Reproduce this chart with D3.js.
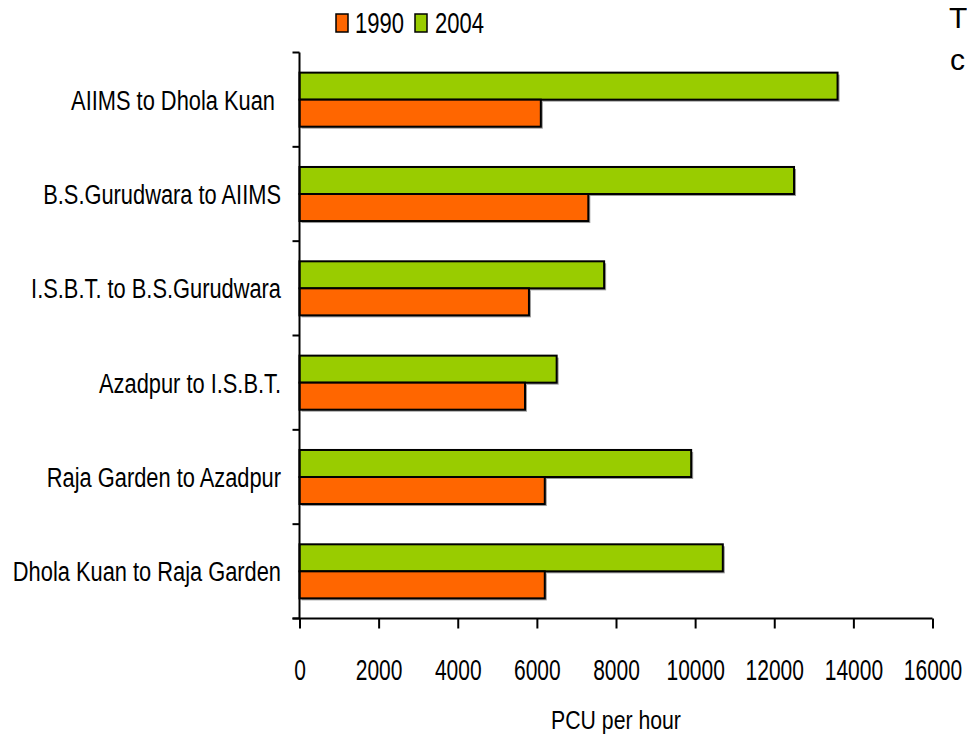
<!DOCTYPE html>
<html>
<head>
<meta charset="utf-8">
<script src="https://cdn.jsdelivr.net/npm/d3@7"></script>
<style>
  html, body { margin: 0; padding: 0; background: #fff; }
  svg text { font-family: "Liberation Sans", Arial, sans-serif; fill: #000; white-space: pre; }
</style>
</head>
<body>
<svg id="chart" width="967" height="738"></svg>
<script>
// Road sections, top to bottom
const sections = [
  "AIIMS to Dhola Kuan ",
  "B.S.Gurudwara to AIIMS",
  "I.S.B.T. to B.S.Gurudwara",
  "Azadpur to I.S.B.T.",
  "Raja Garden to Azadpur",
  "Dhola Kuan to Raja Garden"
];
// Peak traffic volume, PCU per hour
const values1990 = [6100, 7300, 5800, 5700, 6200, 6200];
const values2004 = [13600, 12500, 7700, 6500, 9900, 10700];
const seriesNames = ["2004", "1990"];
const seriesColors = { "1990": "#FF6600", "2004": "#99CC00" };
const xTicks = [0, 2000, 4000, 6000, 8000, 10000, 12000, 14000, 16000];

const svg = d3.select("#chart");
const plot = { left: 299.5, right: 932.5, top: 52.5, bottom: 618.5 };

// condensed lettering: horizontally squeezed sans
function narrow(sel, px, py, sx) {
  sel.attr("x", 0).attr("y", 0).attr("transform", `translate(${px},${py}) scale(${sx},1)`);
}

const x = d3.scaleLinear().domain([0, 16000]).range([plot.left, plot.right]);
const yOuter = d3.scaleBand().domain(sections).range([plot.top, plot.bottom]).padding(0);
const y = d3.scaleBand().domain(sections).range([plot.top, plot.bottom])
  .paddingInner(0.427).paddingOuter(0.2135);
const ySub = d3.scaleBand().domain(seriesNames).range([0, y.bandwidth()]).padding(0);

const rows = sections.map((s, i) => ({ section: s, "1990": values1990[i], "2004": values2004[i] }));

// bars with a soft grey drop shadow
const groups = svg.append("g").selectAll("g").data(rows).join("g")
  .attr("transform", d => `translate(0,${y(d.section)})`);

groups.selectAll("rect.shadow").data(d => seriesNames.map(k => ({ key: k, value: d[k] })))
  .join("rect").attr("class", "shadow")
  .attr("x", x(0) + 2)
  .attr("y", d => ySub(d.key) + 2)
  .attr("width", d => x(d.value) - x(0))
  .attr("height", ySub.bandwidth())
  .attr("fill", "#9a9a9a");

groups.selectAll("rect.bar").data(d => seriesNames.map(k => ({ key: k, value: d[k] })))
  .join("rect").attr("class", "bar")
  .attr("x", x(0))
  .attr("y", d => ySub(d.key))
  .attr("width", d => x(d.value) - x(0))
  .attr("height", ySub.bandwidth())
  .attr("fill", d => seriesColors[d.key])
  .attr("stroke", "#000")
  .attr("stroke-width", 2);

// x axis
const xAxis = d3.axisBottom(x).tickValues(xTicks).tickFormat(d3.format("d")).tickSize(10).tickSizeOuter(0);
const gx = svg.append("g").attr("transform", `translate(0,${plot.bottom})`).call(xAxis);
gx.select(".domain").attr("d", `M${plot.left - 7},0H${plot.right}`).attr("stroke", "#000").attr("stroke-width", 2);
gx.selectAll(".tick line").attr("stroke", "#000").attr("stroke-width", 2);
gx.selectAll(".tick text").attr("dy", 0).attr("fill", "#000")
  .style("font-size", "30px")
  .call(narrow, 0, 61, 0.7);

// y axis: ticks sit on the category boundaries
const boundaries = sections.map(s => yOuter(s)).concat([plot.bottom]);
const gy = svg.append("g");
gy.append("line").attr("x1", plot.left).attr("x2", plot.left)
  .attr("y1", plot.top).attr("y2", plot.bottom).attr("stroke", "#000").attr("stroke-width", 2);
gy.selectAll("line.tick").data(boundaries).join("line").attr("class", "tick")
  .attr("x1", plot.left - 7).attr("x2", plot.left)
  .attr("y1", d => d).attr("y2", d => d)
  .attr("stroke", "#000").attr("stroke-width", 2);

gy.selectAll("text.cat").data(sections).join("text").attr("class", "cat")
  .attr("text-anchor", "end")
  .style("font-size", "28px")
  .text(d => d)
  .each(function (d) {
    d3.select(this).call(narrow, 281, yOuter(d) + yOuter.bandwidth() / 2 + 10, 0.78);
  });

// axis title
svg.append("text").attr("text-anchor", "middle")
  .style("font-size", "25px").text("PCU per hour")
  .call(narrow, 616, 729, 0.85);

// legend
const legendItems = [
  { key: "1990", sx: 336, tx: 355 },
  { key: "2004", sx: 415, tx: 435 }
];
const lg = svg.append("g");
lg.selectAll("rect").data(legendItems).join("rect")
  .attr("x", d => d.sx).attr("y", 14).attr("width", 12).attr("height", 18)
  .attr("fill", d => seriesColors[d.key]).attr("stroke", "#000").attr("stroke-width", 1.5);
lg.selectAll("text").data(legendItems).join("text")
  .style("font-size", "29px").text(d => d.key)
  .each(function (d) { d3.select(this).call(narrow, d.tx, 33, 0.76); });

// neighbouring slide text, partly outside the frame
svg.append("text").attr("x", 949).attr("y", 28).style("font-size", "30px").text("T");
svg.append("text").attr("x", 950).attr("y", 70).style("font-size", "30px").text("c");
</script>
</body>
</html>
